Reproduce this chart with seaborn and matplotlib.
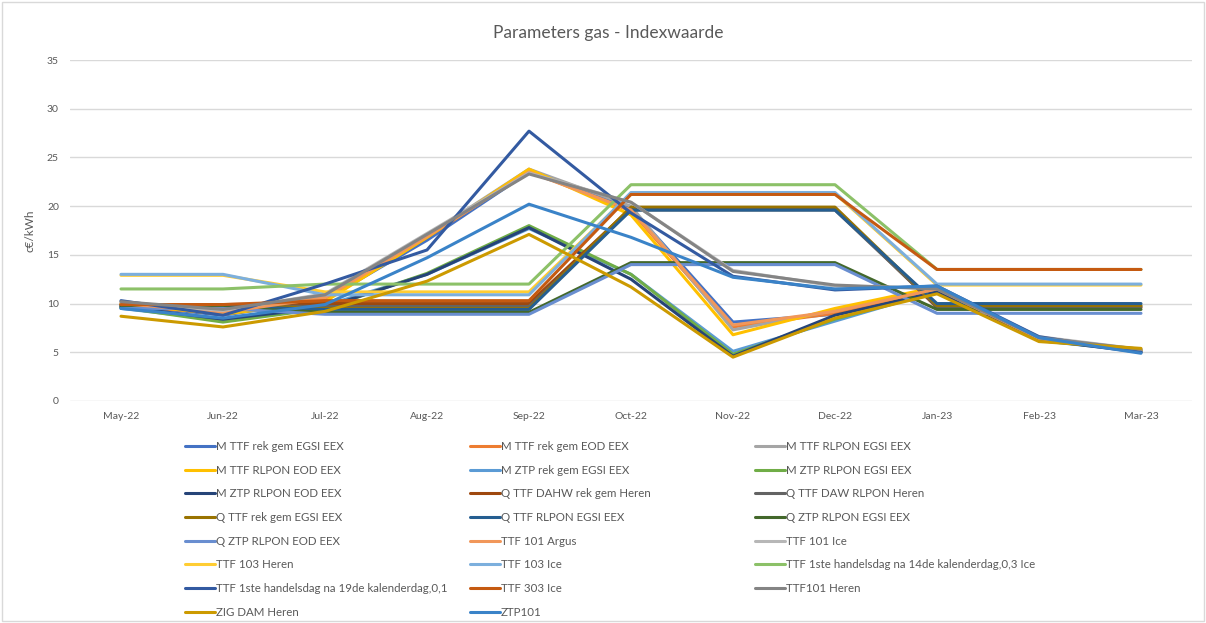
import matplotlib
matplotlib.use("Agg")
import matplotlib.pyplot as plt
import seaborn as sns
import pandas as pd
from matplotlib.patches import Rectangle

months = ["May-22", "Jun-22", "Jul-22", "Aug-22", "Sep-22", "Oct-22",
          "Nov-22", "Dec-22", "Jan-23", "Feb-23", "Mar-23"]

series_names = [
    "M TTF rek gem EGSI EEX", "M TTF rek gem EOD EEX", "M TTF RLPON EGSI EEX",
    "M TTF RLPON EOD EEX", "M ZTP rek gem EGSI EEX", "M ZTP RLPON EGSI EEX",
    "M ZTP RLPON EOD EEX", "Q TTF DAHW rek gem Heren", "Q TTF DAW RLPON Heren",
    "Q TTF rek gem EGSI EEX", "Q TTF RLPON EGSI EEX", "Q ZTP RLPON EGSI EEX",
    "Q ZTP RLPON EOD EEX", "TTF 101 Argus", "TTF 101 Ice", "TTF 103 Heren",
    "TTF 103 Ice", "TTF 1ste handelsdag na 14de kalenderdag,0,3 Ice",
    "TTF 1ste handelsdag na 19de kalenderdag,0,1", "TTF 303 Ice",
    "TTF101 Heren", "ZIG DAM Heren", "ZTP101",
]

m_ttf_rek_gem_egsi = [9.9, 8.8, 10.4, 16.5, 23.5, 19.8, 8.1, 8.9, 11.4, 6.5, 5.1]
m_ttf_rek_gem_eod = [9.8, 9.0, 10.5, 16.8, 23.6, 19.5, 7.6, 9.0, 11.5, 6.4, 5.2]
m_ttf_rlpon_egsi = [10.2, 9.2, 10.8, 17.0, 23.8, 20.0, 7.3, 9.3, 11.6, 6.5, 5.2]
m_ttf_rlpon_eod = [10.0, 8.9, 10.2, 16.8, 23.8, 19.1, 6.8, 9.5, 11.7, 6.3, 5.2]
m_ztp_rek_gem_egsi = [9.5, 8.3, 9.8, 13.0, 17.7, 13.0, 5.1, 8.2, 11.3, 6.2, 5.1]
m_ztp_rlpon_egsi = [9.6, 8.1, 9.5, 13.1, 18.0, 13.0, 4.8, 8.4, 11.2, 6.2, 5.2]
m_ztp_rlpon_eod = [9.7, 8.4, 9.6, 13.0, 17.8, 12.5, 4.6, 8.8, 11.2, 6.3, 5.0]
q_ttf_dahw_rek_gem = [9.9, 9.9, 10.0, 10.0, 10.0, 19.8, 19.8, 19.8, 9.6, 9.6, 9.6]
q_ttf_daw_rlpon = [9.8, 9.8, 9.7, 9.7, 9.7, 19.6, 19.6, 19.6, 9.7, 9.7, 9.7]
q_ttf_rek_gem_egsi = [9.9, 9.9, 9.5, 9.5, 9.5, 19.9, 19.9, 19.9, 9.8, 9.8, 9.8]
q_ttf_rlpon_egsi = [9.7, 9.7, 9.4, 9.4, 9.4, 19.6, 19.6, 19.6, 10.0, 10.0, 10.0]
q_ztp_rlpon_egsi = [9.6, 9.6, 9.1, 9.1, 9.1, 14.2, 14.2, 14.2, 9.4, 9.4, 9.4]
q_ztp_rlpon_eod = [9.5, 9.5, 8.9, 8.9, 8.9, 14.0, 14.0, 14.0, 9.0, 9.0, 9.0]
ttf_101_argus = [10.0, 9.1, 10.6, 16.9, 23.5, 19.6, 7.8, 9.2, 11.5, 6.4, 5.2]
ttf_101_ice = [10.1, 9.3, 11.0, 17.2, 23.4, 20.4, 13.4, 11.8, 11.6, 6.6, 5.3]
ttf_103_heren = [12.9, 12.9, 11.2, 11.2, 11.2, 21.3, 21.3, 21.3, 11.9, 11.9, 11.9]
ttf_103_ice = [13.0, 13.0, 10.9, 10.9, 10.9, 21.4, 21.4, 21.4, 12.0, 12.0, 12.0]
ttf_14de_ice = [11.5, 11.5, 12.0, 12.0, 12.0, 22.2, 22.2, 22.2, 13.5, 13.5, 13.5]
ttf_19de = [10.3, 8.8, 12.0, 15.5, 27.7, 19.3, 12.8, 11.4, 11.8, 6.6, 5.0]
ttf_303_ice = [9.9, 9.9, 10.3, 10.3, 10.3, 21.2, 21.2, 21.2, 13.5, 13.5, 13.5]
ttf101_heren = [10.2, 9.4, 10.9, 17.1, 23.3, 20.4, 13.3, 11.9, 11.5, 6.5, 5.3]
zig_dam_heren = [8.7, 7.6, 9.2, 12.3, 17.1, 11.7, 4.5, 8.5, 11.0, 6.1, 5.4]
ztp101 = [9.5, 8.5, 9.9, 14.7, 20.2, 16.8, 12.7, 11.5, 11.8, 6.5, 4.9]

all_values = [
    m_ttf_rek_gem_egsi, m_ttf_rek_gem_eod, m_ttf_rlpon_egsi, m_ttf_rlpon_eod,
    m_ztp_rek_gem_egsi, m_ztp_rlpon_egsi, m_ztp_rlpon_eod, q_ttf_dahw_rek_gem,
    q_ttf_daw_rlpon, q_ttf_rek_gem_egsi, q_ttf_rlpon_egsi, q_ztp_rlpon_egsi,
    q_ztp_rlpon_eod, ttf_101_argus, ttf_101_ice, ttf_103_heren, ttf_103_ice,
    ttf_14de_ice, ttf_19de, ttf_303_ice, ttf101_heren, zig_dam_heren, ztp101,
]

colors = [
    "#4472C4", "#ED7D31", "#A5A5A5", "#FFC000", "#5B9BD5", "#70AD47",
    "#264478", "#9E480E", "#636363", "#997300", "#255E91", "#43682B",
    "#698ED0", "#F1975A", "#B7B7B7", "#FFCD33", "#7CAFDD", "#8CC168",
    "#335AA1", "#C55A11", "#848484", "#CC9A00", "#3A83C8",
]

rows = []
for name, vals in zip(series_names, all_values):
    for i, v in enumerate(vals):
        rows.append({"series": name, "pos": i, "value": v})
df = pd.DataFrame(rows)

sns.set_theme(style="white")
plt.rcParams["font.family"] = ["Lato", "DejaVu Sans"]

fig = plt.figure(figsize=(12.06, 6.23), dpi=100)
ax = fig.add_axes([70 / 1206, 1 - 401 / 623, (1192 - 70) / 1206, (401 - 60) / 623])

sns.lineplot(data=df, x="pos", y="value", hue="series", hue_order=series_names,
             palette=dict(zip(series_names, colors)), linewidth=2.2,
             sort=False, legend=False, ax=ax)

ax.set_xlim(-0.5, len(months) - 0.5)
ax.set_ylim(0, 35)
ax.set_yticks(range(0, 36, 5))
ax.set_xticks(range(len(months)))
ax.set_xticklabels(months)
ax.yaxis.grid(True, color="#D9D9D9", linewidth=1)
ax.set_axisbelow(True)
for s in ax.spines.values():
    s.set_visible(False)
ax.tick_params(axis="both", length=0, labelsize=7.5, colors="#595959", pad=8)
ax.set_xlabel("")
ax.set_ylabel("c€/kWh", fontsize=8.5, color="#595959", labelpad=8)

fig.text(608 / 1206, 1 - 33 / 623, "Parameters gas - Indexwaarde",
         ha="center", va="center", fontsize=12.5, color="#595959")

# Legend in three columns, row-major like the original
lines = ax.get_lines()
col_x = [185, 470, 755]
for c in range(3):
    idx = list(range(c, len(series_names), 3))
    hs = [lines[i] for i in idx]
    ls = [series_names[i] for i in idx]
    fig.legend(hs, ls, loc="upper left",
               bbox_to_anchor=(col_x[c] / 1206, 1 - 441 / 623),
               frameon=False, fontsize=8.3, handlelength=2.6,
               handletextpad=0.1, labelspacing=1.1, borderpad=0,
               borderaxespad=0, labelcolor="#595959")

fig.patches.append(Rectangle((0.002, 0.003), 0.996, 0.994, transform=fig.transFigure,
                             fill=False, edgecolor="#D9D9D9", linewidth=1))

fig.savefig("out.png", dpi=100, facecolor="white")
